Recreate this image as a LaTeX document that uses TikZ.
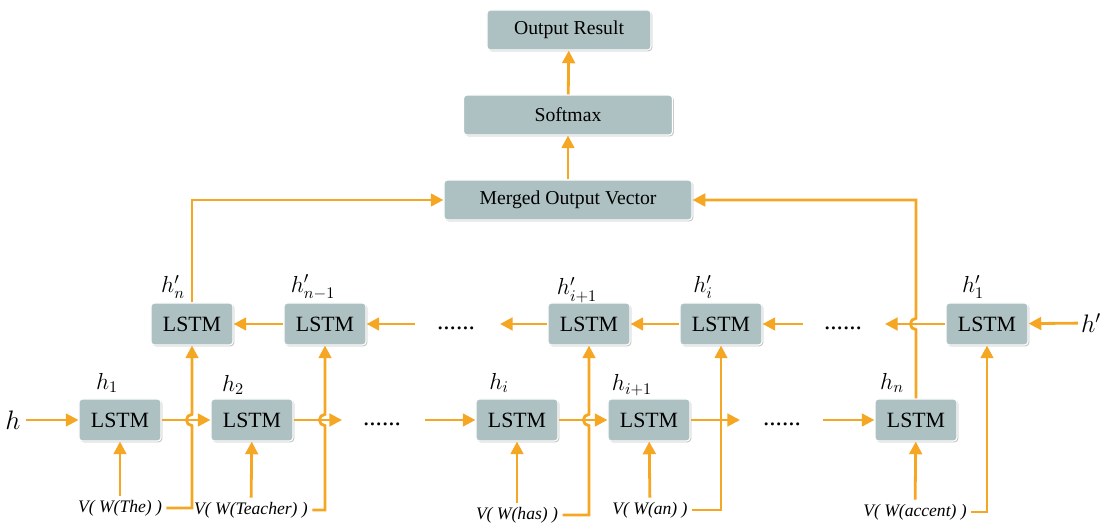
\RequirePackage{fix-cm}
\documentclass[tikz,border=0pt]{standalone}
\usepackage{fontspec}
\setmainfont{Liberation Serif}
\usepackage{amsmath}
\usepackage{tikz}
\usetikzlibrary{arrows.meta,calc,shadows}
\definecolor{flowor}{RGB}{245,166,35}
\definecolor{boxgray}{RGB}{173,193,195}
\tikzset{
    cell/.style={rectangle, rounded corners=2.5pt, draw=white, line width=0.8pt, fill=boxgray,
        drop shadow={shadow xshift=0.9pt, shadow yshift=-0.9pt, fill=black!45},
        minimum width=2.05cm, minimum height=1.05cm, inner sep=0pt, font=\fontsize{15.5}{18}\selectfont},
    topcell/.style={cell, minimum height=1cm, font=\fontsize{14}{17}\selectfont},
    flow/.style={draw=flowor, line width=2pt, -{Triangle[length=9pt,width=9pt]}},
    word/.style={font=\itshape\fontsize{12.5}{15}\selectfont, inner sep=3pt},
    lab/.style={font=\fontsize{16.5}{19}\selectfont, inner sep=0pt},
    ellip/.style={font=\fontsize{18}{20}\selectfont, inner sep=0pt}
}

\begin{document}
\begin{tikzpicture}[x=0.025cm, y=-0.025cm]
    \useasboundingbox (0,0) rectangle (1104,523);
    % output column
    \node[topcell, minimum width=4.1cm] (result) at (569,30) {Output Result};
    \node[topcell, minimum width=5.225cm] (softmax) at (568,115) {Softmax};
    \node[topcell, minimum width=6.2cm] (merged) at (568,200) {Merged Output Vector};
    \draw[flow] (merged) -- (softmax);
    \draw[flow] (softmax) -- (result);

    % forward row
    \node[cell] (f1) at (120,420) {LSTM};
    \node[cell] (f2) at (252,420) {LSTM};
    \node[cell] (fi) at (517,420) {LSTM};
    \node[cell] (fi1) at (649,420) {LSTM};
    \node[cell] (fn) at (916,420) {LSTM};
    \node[lab] at (107,383) {$h_1$};
    \node[lab] at (233,385) {$h_2$};
    \node[lab] at (499,383) {$h_i$};
    \node[lab] at (632,385) {$h_{i+1}$};
    \node[lab] at (892,383) {$h_n$};

    % backward row
    \node[cell] (bn) at (192,324) {LSTM};
    \node[cell] (bn1) at (325,324) {LSTM};
    \node[cell] (bi1) at (589,324) {LSTM};
    \node[cell] (bi) at (721,324) {LSTM};
    \node[cell] (b1) at (987,324) {LSTM};
    \node[lab] at (173,287) {$h'_n$};
    \node[lab] at (313,287) {$h'_{n-1}$};
    \node[lab] at (577,290) {$h'_{i+1}$};
    \node[lab] at (703,287) {$h'_i$};
    \node[lab] at (973,287) {$h'_1$};

    % words
    \node[word] (wthe) at (120,508) {V( W(The) )};
    \node[word] (wteacher) at (251,510) {V( W(Teacher) )};
    \node[word] (whas) at (517,515) {V( W(has) )};
    \node[word] (wan) at (650,510) {V( W(an) )};
    \node[word] (waccent) at (915,512) {V( W(accent) )};

    % forward flow
    \node[lab, inner sep=4pt, font=\fontsize{19}{22}\selectfont] (hin) at (13,420) {$h$};
    \draw[flow] (hin) -- (f1);
    \draw[flow] (f1) -- (f2);
    \coordinate (a1) at (342,420);
    \draw[flow] (f2) -- (a1);
    \node[ellip] (e1) at (382,424) {......};
    \coordinate (a2) at (425,420);
    \draw[flow] (a2) -- (fi);
    \draw[flow] (fi) -- (fi1);
    \coordinate (a3) at (740,420);
    \draw[flow] (fi1) -- (a3);
    \node[ellip] (e2) at (782,424) {......};
    \coordinate (a4) at (823,420);
    \draw[flow] (a4) -- (fn);

    % backward flow
    \node[lab, inner sep=2pt, anchor=east, font=\fontsize{18}{21}\selectfont] (hpin) at (1104,323) {$h'$};
    \draw[flow] (hpin) -- (b1);
    \coordinate (c1) at (885,324);
    \draw[flow] (b1) -- (c1);
    \node[ellip] (e3) at (843,328) {......};
    \coordinate (c2) at (803,324);
    \draw[flow] (c2) -- (bi);
    \draw[flow] (bi) -- (bi1);
    \coordinate (c3) at (500,324);
    \draw[flow] (bi1) -- (c3);
    \node[ellip] (e4) at (456,328) {......};
    \coordinate (c4) at (415,324);
    \draw[flow] (c4) -- (bn1);
    \draw[flow] (bn1) -- (bn);

    % inputs
    \draw[flow] (wthe) -- (f1);
    \draw[flow] (wteacher) -- (f2);
    \draw[flow] (whas) -- (fi);
    \draw[flow] (wan) -- (fi1);
    \draw[flow] (waccent) -- (fn);
    \draw[flow] (wthe.east) -| ($(bn.south |- f1.east)+(0pt,-4pt)$)
        arc[start angle=-90, end angle=-270, radius=4pt] -- (bn.south);
    \draw[flow] (wteacher.east) -| ($(bn1.south |- f2.east)+(0pt,-4pt)$)
        arc[start angle=-90, end angle=-270, radius=4pt] -- (bn1.south);
    \draw[flow] (whas.east) -| ($(bi1.south |- fi.east)+(0pt,-4pt)$)
        arc[start angle=-90, end angle=-270, radius=4pt] -- (bi1.south);
    \draw[flow] (wan.east) -| (bi.south);
    \draw[flow] (waccent.east) -| (b1.south);

    % to merged vector
    \draw[flow] (bn.north) |- (merged.west);
    \draw[flow] (fn.north) -- ($(fn.north |- b1.west)+(0pt,-4pt)$)
        arc[start angle=-90, end angle=-270, radius=4pt] |- (merged.east);
\end{tikzpicture}
\end{document}
